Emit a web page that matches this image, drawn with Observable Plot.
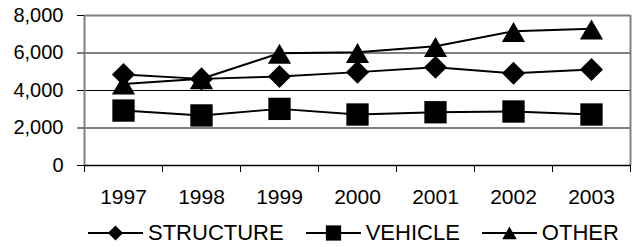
<!DOCTYPE html>
<html><head><meta charset="utf-8">
<script src="https://cdn.jsdelivr.net/npm/d3@7"></script>
<script src="https://cdn.jsdelivr.net/npm/@observablehq/plot@0.6"></script>
<style>
html,body{margin:0;padding:0;background:#fff;}
body{width:633px;height:247px;overflow:hidden;font-family:"Liberation Sans",Arial,sans-serif;}
#legend{display:flex;align-items:center;height:42px;padding-left:88px;font-size:22px;color:#000;box-sizing:border-box;}
.item{display:flex;align-items:center;margin-right:22px;}
.item svg{margin-right:5px;display:block;}
</style></head><body><div id="chart"></div><div id="legend"></div>
<script>
const years = [1997, 1998, 1999, 2000, 2001, 2002, 2003];
const structure = [4850, 4620, 4750, 4980, 5240, 4920, 5120];
const vehicle = [2930, 2670, 3020, 2720, 2840, 2880, 2720];
const other = [4350, 4630, 5990, 6040, 6360, 7160, 7290];
const seriesNames = ["STRUCTURE", "VEHICLE", "OTHER"];
const yTicks = [0, 2000, 4000, 6000, 8000];

const series = [
  {name: seriesNames[0], values: structure, symbol: "diamond2", d3sym: d3.symbolDiamond2, r: 10.4, lr: 6.8, dy: 0},
  {name: seriesNames[1], values: vehicle, symbol: "square", d3sym: d3.symbolSquare, r: 12.6, lr: 8.6, dy: 0},
  {name: seriesNames[2], values: other, symbol: "triangle", d3sym: d3.symbolTriangle, r: 8.6, lr: 5.4, dy: 4}
];

const x0 = years[0] - 0.5, x1 = years[years.length - 1] + 0.5;
const boundaries = d3.range(years.length + 1).map(i => x0 + i);
const font = '"Liberation Sans", Arial, sans-serif';

const marks = [
  Plot.ruleY([2000, 4000, 6000], {stroke: "#000", strokeWidth: 1}),
  Plot.ruleY([8000], {stroke: "#808080", strokeWidth: 2}),
  Plot.ruleX([x1], {stroke: "#808080", strokeWidth: 2}),
  Plot.ruleX([x0], {stroke: "#808080", strokeWidth: 2}),
  Plot.ruleY([0], {stroke: "#000", strokeWidth: 1.5}),
  Plot.axisY({ticks: yTicks, tickSize: 7, tickPadding: 14, tickFormat: d3.format(","), fontSize: 20, label: null}),
  Plot.axisX({ticks: boundaries, tickSize: 7, tickFormat: () => "", label: null}),
  Plot.axisX({ticks: years, tickSize: 0, tickPadding: 24, tickFormat: d => String(d), fontSize: 21, label: null})
];

for (const s of series) {
  const rows = years.map((yr, i) => ({year: yr, value: s.values[i], series: s.name}));
  marks.push(Plot.line(rows, {x: "year", y: "value", stroke: "#000", strokeWidth: 2}));
  marks.push(Plot.dot(rows, {x: "year", y: "value", symbol: s.symbol, r: s.r, fill: "#000", stroke: "none", dy: s.dy}));
}

const chart = Plot.plot({
  width: 633, height: 212,
  marginTop: 15, marginBottom: 47, marginLeft: 84, marginRight: 3,
  style: {fontFamily: font, fontSize: "20px", color: "#000", background: "#fff"},
  x: {domain: [x0, x1]},
  y: {domain: [0, 8000]},
  marks
});
document.getElementById("chart").appendChild(chart);

const legend = document.getElementById("legend");
for (const s of series) {
  const item = document.createElement("div");
  item.className = "item";
  const svg = d3.create("svg").attr("width", 55).attr("height", 20);
  svg.append("line").attr("x1", 0).attr("x2", 55).attr("y1", 10).attr("y2", 10).attr("stroke", "#000").attr("stroke-width", 2);
  svg.append("path").attr("transform", `translate(27.5,${10 + (s.dy ? 2 : 0)})`)
    .attr("d", d3.symbol().type(s.d3sym).size(Math.PI * s.lr * s.lr)()).attr("fill", "#000");
  item.appendChild(svg.node());
  const span = document.createElement("span");
  span.textContent = s.name;
  item.appendChild(span);
  legend.appendChild(item);
}
</script></body></html>
